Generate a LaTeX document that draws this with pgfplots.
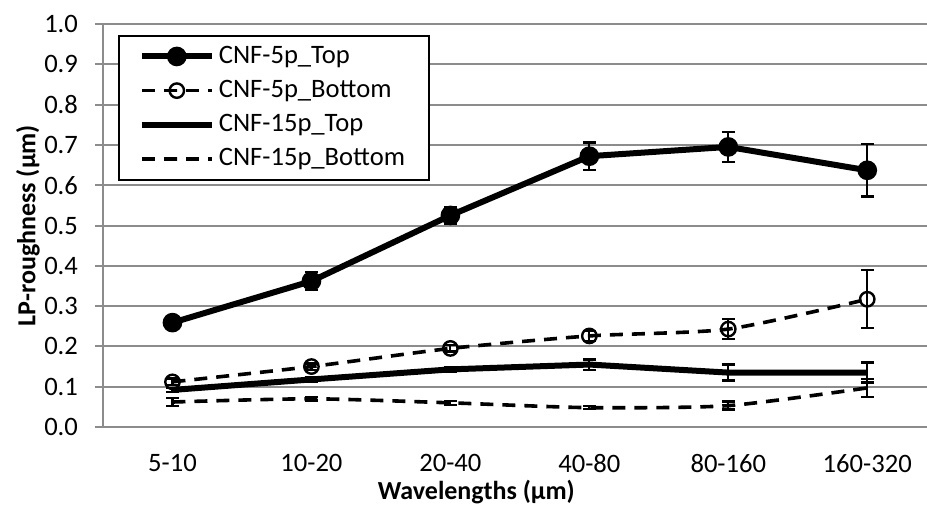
\documentclass[border=0pt]{standalone}
\usepackage{fontspec}
\setmainfont{Carlito}
\usepackage{pgfplots}
\pgfplotsset{compat=1.18}
\usetikzlibrary{calc}
\definecolor{gridgray}{gray}{0.55}

\begin{document}
\fontsize{13}{15}\selectfont
\begin{tikzpicture}
\begin{axis}[
  scale only axis, width=412pt, height=201.5pt,
  xmin=-0.5, xmax=5.43, ymin=0, ymax=1,
  axis x line*=bottom, axis y line*=left,
  axis line style={gridgray, line width=1pt},
  xtick={0,...,5}, xticklabels={5-10,10-20,20-40,40-80,80-160,160-320},
  minor xtick={-0.5,0.5,1.5,2.5,3.5,4.5},
  xtick style={draw=none},
  minor x tick style={gridgray, line width=1pt},
  y tick style={gridgray, line width=1pt},
  tick align=outside, major tick length=4pt, minor tick length=4pt,
  ytick={0,0.1,0.2,0.3,0.4,0.5,0.6,0.7,0.8,0.9,1.0},
  yticklabel style={/pgf/number format/fixed, /pgf/number format/fixed zerofill, /pgf/number format/precision=1, xshift=-4pt},
  /pgf/number format/assume math mode=true,
  xticklabel style={yshift=-5pt},
  ymajorgrids, grid style={gridgray, line width=1pt},
  ticklabel style={font=\fontsize{13.3}{15}\selectfont},
  ylabel={\bfseries LP-roughness (µm)},
  xlabel={\bfseries Wavelengths (µm)},
  ylabel style={at={(axis description cs:0,0.5)}, anchor=center, rotate=0, yshift=37.5pt, font=\fontsize{13}{15}\selectfont},
  xlabel style={at={(axis description cs:0.453,0)}, anchor=center, yshift=-32.5pt, font=\fontsize{13}{15}\selectfont},
  legend style={at={(rel axis cs:0.018,0.973)}, anchor=north west, draw=black, line width=1pt, fill=white,
    font=\fontsize{13.3}{15}\selectfont, cells={anchor=west}, row sep=2.5pt, inner xsep=10pt, inner ysep=3pt},
  legend image code/.code={\draw[mark repeat=2,mark phase=2,#1] plot coordinates {(0pt,0pt) (17.5pt,0pt) (35pt,0pt)};},
  error bars/error bar style={black, line width=1.1pt, solid},
  error bars/error mark options={rotate=90, mark size=3.2pt, line width=1.2pt, black, solid},
]
\addplot[black, line width=3pt, mark=*, mark size=3.4pt, mark options={solid},
  error bars/.cd, y dir=both, y explicit]
  coordinates {(0,0.259) +- (0,0.015) (1,0.362) +- (0,0.022) (2,0.525) +- (0,0.02)
               (3,0.672) +- (0,0.034) (4,0.695) +- (0,0.037) (5,0.637) +- (0,0.065)};
\addlegendentry{CNF-5p\_Top}
\addplot[black, line width=1.8pt, dash pattern=on 6.5pt off 4.5pt, smooth, tension=0.4,
  mark=o, mark size=3.6pt, mark options={solid, fill=white, line width=1.2pt},
  error bars/.cd, y dir=both, y explicit]
  coordinates {(0,0.112) +- (0,0.008) (1,0.150) +- (0,0.008) (2,0.195) +- (0,0.008)
               (3,0.226) +- (0,0.012) (4,0.243) +- (0,0.025) (5,0.317) +- (0,0.072)};
\addlegendentry{CNF-5p\_Bottom}
\addplot[black, line width=3pt, no markers,
  error bars/.cd, y dir=both, y explicit]
  coordinates {(0,0.092) +- (0,0.005) (1,0.118) +- (0,0.005) (2,0.143) +- (0,0.006)
               (3,0.155) +- (0,0.013) (4,0.135) +- (0,0.02) (5,0.135) +- (0,0.025)};
\addlegendentry{CNF-15p\_Top}
\addplot[black, line width=1.8pt, dash pattern=on 6.5pt off 4.5pt, smooth, tension=0.4, no markers,
  error bars/.cd, y dir=both, y explicit]
  coordinates {(0,0.062) +- (0,0.01) (1,0.070) +- (0,0.004) (2,0.060) +- (0,0.005)
               (3,0.048) +- (0,0.004) (4,0.053) +- (0,0.01) (5,0.097) +- (0,0.022)};
\addlegendentry{CNF-15p\_Bottom}
\end{axis}
\pgfresetboundingbox
\useasboundingbox ($(current axis.south west)+(-51.5pt,-44.5pt)$) rectangle ($(current axis.north east)+(0pt,12pt)$);
\end{tikzpicture}
\end{document}
